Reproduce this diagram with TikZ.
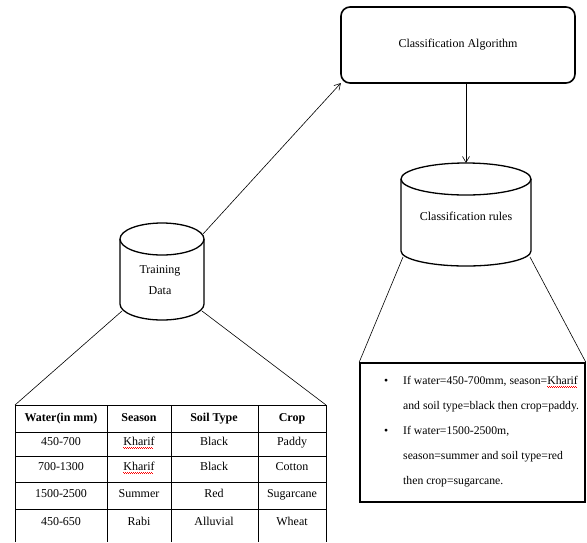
\documentclass[tikz,border=0pt]{standalone}
\usepackage{fontspec}
\setmainfont{Liberation Serif}
\usepackage{xcolor}
\usetikzlibrary{arrows.meta, positioning}
\def\kh#1{\setbox0\hbox{#1}\leavevmode\rlap{\lower2.5pt\hbox to\wd0{\color{red}\leaders\hbox to 2pt{\rule[0pt]{1pt}{0.6pt}\rule[-0.6pt]{1pt}{0.6pt}}\hfil}}\box0}
\def\fs{\fontsize{12}{21}\selectfont}
\def\bul{\llap{\textbullet\hspace{15pt}}}

\begin{document}
\begin{tikzpicture}[x=1pt,y=-1pt,
  lbl/.style={font=\fs, inner sep=0pt, align=center},
  cell/.style={font=\fs, inner sep=0pt, text height=8.5pt, text depth=2.5pt},
  arr/.style={-{Straight Barb[length=6pt,width=7pt]}, line width=0.6pt},
  conn/.style={line width=0.6pt},
  cyl/.style={line width=1.3pt}]
\useasboundingbox (0,0) rectangle (587,542);

\node[draw, line width=1.6pt, rounded corners=9pt, minimum width=234pt, minimum height=76pt, font=\fs] (alg) at (458,45) {Classification Algorithm};

\draw[cyl] (120,239) -- (120,304) arc[start angle=180, end angle=360, x radius=42pt, y radius=16pt] -- (204,239);
\draw[cyl] (162,239) ellipse[x radius=42pt, y radius=16pt];
\node[lbl] (train) at (160,280) {Training\\Data};
\coordinate (trainout) at (203,234);
\coordinate (trainbl) at (122,311);
\coordinate (trainbr) at (202,311);

\draw[cyl] (401,179) -- (401,251) arc[start angle=180, end angle=360, x radius=65pt, y radius=15pt] -- (531,179);
\draw[cyl] (466,179) ellipse[x radius=65pt, y radius=16pt];
\node[lbl] (rules) at (466,216) {Classification rules};
\coordinate (rulestop) at (466,163);
\coordinate (rulesbl) at (403,257);
\coordinate (rulesbr) at (530,257);

\draw[arr, shorten >=-1pt] (trainout) -- (alg.south west);
\draw[arr] (alg.south -| rulestop) -- (rulestop);

% table
\coordinate (tabtl) at (15,405);
\coordinate (tabtr) at (326,405);
\draw[line width=1pt] (15,542) -- (tabtl) -- (tabtr) -- (326,542);
\foreach \x in {107,171,258} \draw[line width=0.8pt] (\x,405) -- (\x,542);
\foreach \y in {432,456,482,509} \draw[line width=0.8pt] (15,\y) -- (326,\y);
\foreach \n/\x/\t in {h1/61/Water(in mm),h2/139/Season,h3/214/Soil Type,h4/292/Crop}
  \node[cell, font=\fs\bfseries] (\n) at (\x,418) {\t};
\foreach \i/\y/\w/\s/\o/\c in {1/442/450-700/\kh{Kharif}/Black/Paddy,
    2/467/700-1300/\kh{Kharif}/Black/Cotton,
    3/494/1500-2500/Summer/Red/Sugarcane,
    4/522/450-650/Rabi/Alluvial/Wheat}{
  \node[cell] (w\i) at (61,\y) {\w};
  \node[cell] (s\i) at (139,\y) {\s};
  \node[cell] (o\i) at (214,\y) {\o};
  \node[cell] (c\i) at (292,\y) {\c};
}
\draw[conn] (trainbl) -- (tabtl);
\draw[conn] (trainbr) -- (tabtr);

\node[draw, line width=1.6pt, minimum width=225pt, minimum height=139pt] (rulebox) at (472.5,432.5) {};
\draw[conn] (rulesbl) -- (rulebox.north west);
\draw[conn] (rulesbr) -- (rulebox.north east);
\node[font=\fontsize{11.7}{25}\selectfont, align=left, inner sep=0pt, anchor=north west] (rulestext) at (403,376)
  {\bul If water=450-700mm, season=\kh{Kharif}\\
   and soil type=black then crop=paddy.\\
   \bul If water=1500-2500m,\\
   season=summer and soil type=red\\
   then crop=sugarcane.};
\end{tikzpicture}
\end{document}
